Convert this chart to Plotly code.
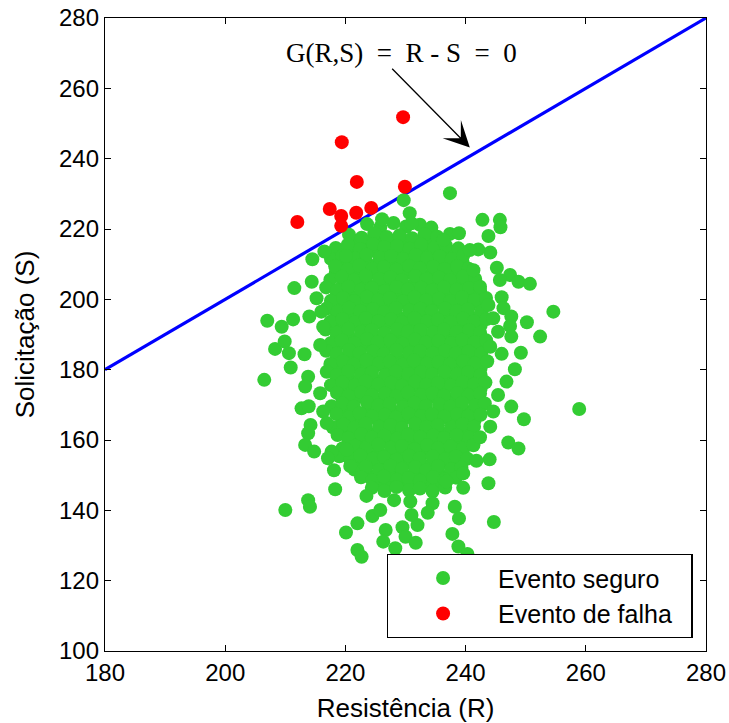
import plotly.graph_objects as go

# ---------------- data ----------------
# failure events (S > R)
fail_r = [212.0, 219.4, 221.9, 217.4, 219.3, 221.8, 224.3, 219.3, 229.6, 229.9]
fail_s = [222.0, 244.7, 233.4, 225.7, 223.7, 224.6, 226.0, 220.9, 251.8, 232.0]

# safe events, outer (isolated) points
edge_r = [229.7, 237.4, 226.1, 230.7, 231.0, 216.5, 214.5, 220.1, 211.5, 207.0,
          209.4, 211.3, 214.0, 215.2, 216.0, 208.3, 209.9, 210.6, 213.2, 210.9,
          206.5, 213.8, 213.3, 215.8, 212.7, 213.9, 216.3, 214.2, 213.8, 216.9,
          213.3, 214.8, 217.7, 220.2, 214.4, 216.3, 215.8,
          242.8, 245.7, 245.8, 243.8, 238.9, 236.3, 244.1, 242.1, 240.7, 241.3,
          245.2, 247.4, 248.8, 250.7, 245.7, 242.4, 246.0, 246.3, 243.8, 254.6,
          247.6, 250.2, 247.4, 247.6, 252.4, 244.6, 245.4, 244.1, 249.2, 246.0,
          248.2, 246.8, 245.4, 247.6, 249.7, 258.9, 244.6, 244.1, 242.4, 247.1,
          248.8, 244.0,
          210.0, 213.8, 214.1, 218.3, 220.1, 222.0, 222.0, 222.7, 223.5, 224.5,
          225.8, 226.7, 226.3, 228.3, 228.1, 229.5, 230.0, 231.7, 232.0, 231.0,
          230.8, 234.5, 233.7, 238.2, 238.9, 237.8, 238.8, 240.3, 241.8, 218.1,
          220.8, 217.1, 239.6, 236.8, 243.8, 239.6, 244.7]
edge_s = [228.2, 230.2, 222.8, 224.5, 221.6, 213.6, 211.4, 212.3, 203.2, 193.9,
          192.2, 194.3, 195.1, 200.3, 196.5, 185.9, 188.0, 184.7, 184.4, 180.6,
          177.1, 178.0, 175.2, 173.3, 169.0, 169.6, 168.1, 164.3, 161.9, 164.8,
          158.6, 156.7, 156.7, 157.2, 205.0, 192.2, 187.0,
          222.6, 222.6, 220.5, 218.0, 218.8, 216.9, 213.3, 214.2, 214.0, 208.3,
          209.0, 206.9, 205.0, 204.4, 205.5, 203.6, 200.6, 197.5, 198.4, 196.5,
          195.1, 193.5, 192.4, 189.4, 189.4, 194.6, 190.8, 186.5, 184.8, 184.5,
          180.1, 176.6, 172.8, 169.5, 165.9, 168.8, 168.1, 163.8, 160.8, 159.3,
          157.6, 154.5,
          140.1, 142.9, 141.0, 146.0, 133.7, 136.3, 128.7, 126.8, 144.1, 138.4,
          140.1, 134.4, 131.1, 129.2, 142.9, 135.2, 132.5, 130.8, 135.8, 138.7,
          142.5, 142.0, 139.3, 141.0, 137.7, 133.3, 129.7, 127.6, 154.1, 151.4,
          152.6, 154.8, 146.4, 148.2, 147.7, 150.5, 136.7]

# safe events, dense core (read row by row from the cloud)
core_r = [
    223.6, 225.8, 228.0, 230.1, 232.4, 234.3,
    220.6, 222.7, 224.8, 226.9, 229.0, 231.1, 233.2, 235.3, 237.4,
    218.4, 220.4, 222.5, 224.6, 226.5, 228.6, 230.7, 232.6, 234.8, 236.7, 238.8,
    217.6, 219.5, 221.6, 223.5, 225.7, 227.6, 229.6, 231.7, 233.6, 235.7, 237.7, 239.6,
    218.3, 220.4, 222.3, 224.5, 226.4, 228.5, 230.6, 232.4, 234.6, 236.5, 238.6, 240.5,
    217.5, 219.4, 221.5, 223.4, 225.6, 227.5, 229.4, 231.6, 233.5, 235.6, 237.4, 239.6, 241.6,
    216.8, 218.6, 220.5, 222.6, 224.4, 226.6, 228.5, 230.4, 232.6, 234.5, 236.4, 238.5, 240.6, 242.4,
    217.6, 219.6, 221.4, 223.6, 225.5, 227.4, 229.6, 231.5, 233.4, 235.6, 237.5, 239.4, 241.5, 243.4,
    216.9, 218.7, 220.6, 222.5, 224.6, 226.5, 228.4, 230.6, 232.5, 234.4, 236.6, 238.5, 240.4, 242.6,
    217.5, 219.5, 221.6, 223.4, 225.5, 227.6, 229.4, 231.5, 233.6, 235.4, 237.5, 239.6, 241.4, 243.5,
    216.7, 218.6, 220.5, 222.6, 224.4, 226.5, 228.6, 230.4, 232.5, 234.6, 236.4, 238.5, 240.6, 242.4,
    217.6, 219.4, 221.5, 223.6, 225.4, 227.5, 229.5, 231.6, 233.4, 235.5, 237.6, 239.4, 241.5, 243.4,
    216.8, 218.5, 220.6, 222.4, 224.6, 226.4, 228.5, 230.6, 232.4, 234.5, 236.6, 238.4, 240.5, 242.6,
    217.5, 219.6, 221.4, 223.5, 225.6, 227.4, 229.5, 231.4, 233.6, 235.5, 237.4, 239.6, 241.5, 243.6,
    216.9, 218.6, 220.5, 222.6, 224.4, 226.6, 228.4, 230.5, 232.6, 234.4, 236.5, 238.6, 240.4, 242.5,
    217.6, 219.5, 221.6, 223.4, 225.5, 227.6, 229.4, 231.6, 233.5, 235.4, 237.6, 239.5, 241.4, 243.3,
    218.6, 220.5, 222.6, 224.4, 226.6, 228.5, 230.4, 232.6, 234.5, 236.4, 238.6, 240.5, 242.4,
    217.7, 219.5, 221.4, 223.6, 225.5, 227.4, 229.6, 231.5, 233.4, 235.6, 237.5, 239.4, 241.6, 243.2,
    218.5, 220.6, 222.4, 224.5, 226.6, 228.4, 230.5, 232.6, 234.4, 236.5, 238.6, 240.4, 242.5,
    217.9, 219.7, 221.5, 223.4, 225.6, 227.5, 229.4, 231.6, 233.5, 235.4, 237.6, 239.5, 241.4,
    218.7, 220.5, 222.6, 224.4, 226.5, 228.6, 230.4, 232.5, 234.6, 236.4, 238.5, 240.6,
    219.5, 221.6, 223.4, 225.5, 227.6, 229.4, 231.5, 233.6, 235.4, 237.5, 239.6, 241.3,
    219.0, 220.8, 222.5, 224.6, 226.4, 228.5, 230.6, 232.4, 234.5, 236.6, 238.4, 240.3,
    221.5, 223.4, 225.6, 227.5, 229.4, 231.6, 233.5, 235.4, 237.6, 239.3,
    222.6, 224.5, 226.4, 228.6, 230.5, 232.4, 234.6, 236.5, 238.4,
    224.4, 226.5, 228.5, 230.6, 232.4, 234.5, 236.6,
]
core_s = [
    221.4, 220.5, 221.7, 220.7, 221.2, 220.4,
    218.4, 217.5, 218.7, 217.7, 218.2, 217.4, 218.5, 217.8, 218.6,
    214.6, 215.5, 214.3, 215.7, 214.8, 215.2, 214.4, 215.6, 214.7, 215.3, 214.5,
    211.5, 212.4, 211.6, 212.7, 211.8, 212.3, 211.4, 212.6, 211.7, 212.2, 211.5, 212.5,
    209.4, 208.5, 209.6, 208.7, 209.2, 208.4, 209.5, 208.8, 209.3, 208.6, 209.4, 208.7,
    205.6, 206.4, 205.5, 206.7, 205.8, 206.3, 205.4, 206.6, 205.7, 206.2, 205.5, 206.5, 205.8,
    203.4, 202.5, 203.6, 202.7, 203.2, 202.4, 203.5, 202.8, 203.3, 202.6, 203.4, 202.7, 203.2, 202.5,
    199.6, 200.4, 199.5, 200.7, 199.8, 200.3, 199.4, 200.6, 199.7, 200.2, 199.5, 200.5, 199.8, 200.4,
    197.4, 196.5, 197.6, 196.7, 197.2, 196.4, 197.5, 196.8, 197.3, 196.6, 197.4, 196.7, 197.2, 196.5,
    193.6, 194.4, 193.5, 194.7, 193.8, 194.3, 193.4, 194.6, 193.7, 194.2, 193.5, 194.5, 193.8, 194.4,
    191.4, 190.5, 191.6, 190.7, 191.2, 190.4, 191.5, 190.8, 191.3, 190.6, 191.4, 190.7, 191.2, 190.5,
    187.6, 188.4, 187.5, 188.7, 187.8, 188.3, 187.4, 188.6, 187.7, 188.2, 187.5, 188.5, 187.8, 188.4,
    185.4, 184.5, 185.6, 184.7, 185.2, 184.4, 185.5, 184.8, 185.3, 184.6, 185.4, 184.7, 185.2, 184.5,
    181.6, 182.4, 181.5, 182.7, 181.8, 182.3, 181.4, 182.6, 181.7, 182.2, 181.5, 182.5, 181.8, 182.4,
    179.4, 178.5, 179.6, 178.7, 179.2, 178.4, 179.5, 178.8, 179.3, 178.6, 179.4, 178.7, 179.2, 178.5,
    175.6, 176.4, 175.5, 176.7, 175.8, 176.3, 175.4, 176.6, 175.7, 176.2, 175.5, 176.5, 175.8, 176.4,
    173.4, 172.5, 173.6, 172.7, 173.2, 172.4, 173.5, 172.8, 173.3, 172.6, 173.4, 172.7, 173.2,
    169.6, 170.4, 169.5, 170.7, 169.8, 170.3, 169.4, 170.6, 169.7, 170.2, 169.5, 170.5, 169.8, 170.4,
    167.4, 166.5, 167.6, 166.7, 167.2, 166.4, 167.5, 166.8, 167.3, 166.6, 167.4, 166.7, 167.2,
    163.6, 164.4, 163.5, 164.7, 163.8, 164.3, 163.4, 164.6, 163.7, 164.2, 163.5, 164.5, 163.8,
    161.4, 160.5, 161.6, 160.7, 161.2, 160.4, 161.5, 160.8, 161.3, 160.6, 161.4, 160.7,
    157.6, 158.4, 157.5, 158.7, 157.8, 158.3, 157.4, 158.6, 157.7, 158.2, 157.5, 158.5,
    155.4, 154.5, 155.6, 154.7, 155.2, 154.4, 155.5, 154.8, 155.3, 154.6, 155.4, 154.7,
    151.6, 152.4, 151.5, 152.7, 151.8, 152.3, 151.4, 152.6, 151.7, 152.2,
    149.4, 148.5, 149.6, 148.7, 149.2, 148.4, 149.5, 148.8, 149.3,
    146.4, 145.5, 146.6, 145.7, 146.2, 145.4, 146.5,
]

# safe events hidden inside the core (between the rows above)
inner_r = [
    221.6, 223.7, 225.8, 227.9, 230.0, 232.1, 234.2, 236.1,
    219.4, 221.5, 223.6, 225.6, 227.7, 229.6, 231.6, 233.7, 235.6, 237.7,
    219.4, 221.4, 223.5, 225.5, 227.5, 229.5, 231.5, 233.5, 235.5, 237.6, 239.5,
    218.4, 220.5, 222.4, 224.5, 226.5, 228.5, 230.5, 232.5, 234.5, 236.5, 238.5, 240.5,
    219.6, 221.6, 223.6, 225.6, 227.6, 229.6, 231.6, 233.6, 235.6, 237.6, 239.6, 241.5,
    218.6, 220.5, 222.5, 224.5, 226.5, 228.5, 230.5, 232.5, 234.5, 236.5, 238.5, 240.5, 242.4,
    218.5, 220.6, 222.6, 224.6, 226.6, 228.6, 230.6, 232.6, 234.6, 236.6, 238.6, 240.6, 242.5,
    218.6, 220.5, 222.5, 224.5, 226.5, 228.5, 230.5, 232.5, 234.5, 236.5, 238.5, 240.5, 242.5,
    218.5, 220.6, 222.6, 224.6, 226.6, 228.6, 230.6, 232.6, 234.6, 236.6, 238.6, 240.6, 242.5,
    218.6, 220.5, 222.5, 224.5, 226.5, 228.5, 230.5, 232.5, 234.5, 236.5, 238.5, 240.5, 242.5,
    218.5, 220.6, 222.6, 224.6, 226.6, 228.6, 230.6, 232.6, 234.6, 236.6, 238.6, 240.6, 242.5,
    218.6, 220.5, 222.5, 224.5, 226.5, 228.5, 230.5, 232.5, 234.5, 236.5, 238.5, 240.5, 242.5,
    218.5, 220.6, 222.6, 224.6, 226.6, 228.6, 230.6, 232.6, 234.6, 236.6, 238.6, 240.6, 242.5,
    218.6, 220.5, 222.5, 224.5, 226.5, 228.5, 230.5, 232.5, 234.5, 236.5, 238.5, 240.5, 242.5,
    218.5, 220.6, 222.6, 224.6, 226.6, 228.6, 230.6, 232.6, 234.6, 236.6, 238.6, 240.6, 242.5,
    219.5, 221.5, 223.5, 225.5, 227.5, 229.5, 231.5, 233.5, 235.5, 237.5, 239.5, 241.5,
    219.6, 221.4, 223.6, 225.4, 227.6, 229.4, 231.6, 233.4, 235.6, 237.4, 239.6, 241.4,
    219.5, 221.5, 223.5, 225.5, 227.5, 229.5, 231.5, 233.5, 235.5, 237.5, 239.5, 241.5,
    219.5, 221.5, 223.5, 225.5, 227.5, 229.5, 231.5, 233.5, 235.5, 237.5, 239.5,
    220.5, 222.5, 224.5, 226.5, 228.5, 230.5, 232.5, 234.5, 236.5, 238.5, 240.4,
    221.5, 223.5, 225.5, 227.5, 229.5, 231.5, 233.5, 235.5, 237.5, 239.5,
    222.5, 224.5, 226.5, 228.5, 230.5, 232.5, 234.5, 236.5, 238.4,
    223.5, 225.5, 227.5, 229.5, 231.5, 233.5, 235.5, 237.5,
    225.5, 227.5, 229.5, 231.5, 233.5, 235.4,
]
inner_s = [
    216.6, 216.4, 216.7, 216.5, 216.6, 216.4, 216.7, 216.5,
    213.5, 213.6, 213.4, 213.5, 213.6, 213.4, 213.5, 213.6, 213.4, 213.5,
    210.5, 210.6, 210.4, 210.5, 210.6, 210.4, 210.5, 210.6, 210.4, 210.5, 210.6,
    207.6, 207.5, 207.7, 207.6, 207.5, 207.7, 207.6, 207.5, 207.7, 207.6, 207.5, 207.7,
    204.5, 204.6, 204.4, 204.5, 204.6, 204.4, 204.5, 204.6, 204.4, 204.5, 204.6, 204.4,
    201.6, 201.5, 201.7, 201.6, 201.5, 201.7, 201.6, 201.5, 201.7, 201.6, 201.5, 201.7, 201.6,
    198.5, 198.6, 198.4, 198.5, 198.6, 198.4, 198.5, 198.6, 198.4, 198.5, 198.6, 198.4, 198.5,
    195.5, 195.6, 195.4, 195.5, 195.6, 195.4, 195.5, 195.6, 195.4, 195.5, 195.6, 195.4, 195.5,
    192.6, 192.5, 192.7, 192.6, 192.5, 192.7, 192.6, 192.5, 192.7, 192.6, 192.5, 192.7, 192.6,
    189.5, 189.6, 189.4, 189.5, 189.6, 189.4, 189.5, 189.6, 189.4, 189.5, 189.6, 189.4, 189.5,
    186.5, 186.6, 186.4, 186.5, 186.6, 186.4, 186.5, 186.6, 186.4, 186.5, 186.6, 186.4, 186.5,
    183.6, 183.5, 183.7, 183.6, 183.5, 183.7, 183.6, 183.5, 183.7, 183.6, 183.5, 183.7, 183.6,
    180.5, 180.6, 180.4, 180.5, 180.6, 180.4, 180.5, 180.6, 180.4, 180.5, 180.6, 180.4, 180.5,
    177.5, 177.6, 177.4, 177.5, 177.6, 177.4, 177.5, 177.6, 177.4, 177.5, 177.6, 177.4, 177.5,
    174.6, 174.5, 174.7, 174.6, 174.5, 174.7, 174.6, 174.5, 174.7, 174.6, 174.5, 174.7, 174.6,
    171.5, 171.6, 171.4, 171.5, 171.6, 171.4, 171.5, 171.6, 171.4, 171.5, 171.6, 171.4,
    168.5, 168.6, 168.4, 168.5, 168.6, 168.4, 168.5, 168.6, 168.4, 168.5, 168.6, 168.4,
    165.6, 165.5, 165.7, 165.6, 165.5, 165.7, 165.6, 165.5, 165.7, 165.6, 165.5, 165.7,
    162.6, 162.5, 162.7, 162.6, 162.5, 162.7, 162.6, 162.5, 162.7, 162.6, 162.5,
    159.5, 159.6, 159.4, 159.5, 159.6, 159.4, 159.5, 159.6, 159.4, 159.5, 159.6,
    156.5, 156.6, 156.4, 156.5, 156.6, 156.4, 156.5, 156.6, 156.4, 156.5,
    153.5, 153.6, 153.4, 153.5, 153.6, 153.4, 153.5, 153.6, 153.4,
    150.5, 150.6, 150.4, 150.5, 150.6, 150.4, 150.5, 150.6,
    147.6, 147.5, 147.7, 147.6, 147.5, 147.7,
]

# limit state line G(R,S) = R - S = 0
limit_r = [180, 280]
limit_s = [180, 280]

x_ticks = [180, 200, 220, 240, 260, 280]
y_ticks = [100, 120, 140, 160, 180, 200, 220, 240, 260, 280]

assert len(core_r) == len(core_s)
assert len(inner_r) == len(inner_s)
assert len(edge_r) == len(edge_s)
safe_r = inner_r + core_r + edge_r
safe_s = inner_s + core_s + edge_s

GREEN = "#33cc33"
SANS = "Liberation Sans, Arial, sans-serif"
NB = "\u00a0"

fig = go.Figure()
fig.add_trace(go.Scatter(x=limit_r, y=limit_s, mode="lines",
                         line=dict(color="#0000ff", width=3.2),
                         showlegend=False, hoverinfo="skip"))
fig.add_trace(go.Scatter(x=safe_r, y=safe_s, mode="markers", name="Evento seguro",
                         marker=dict(color=GREEN, size=14, line=dict(width=0))))
fig.add_trace(go.Scatter(x=fail_r, y=fail_s, mode="markers",
                         name="Evento de falha" + NB + NB,
                         marker=dict(color="#ff0000", size=14, line=dict(width=0))))

# annotation text + arrow
fig.add_annotation(x=229.3, y=270.0, xref="x", yref="y",
                   text="G(R,S)\u2002=\u2002R - S\u2002=\u20020",
                   showarrow=False,
                   font=dict(family="Liberation Serif, serif", size=27, color="black"))
fig.add_annotation(x=240.7, y=243.2, xref="x", yref="y", ax=227.7, ay=265.7,
                   axref="x", ayref="y", text="", showarrow=True, arrowhead=3,
                   arrowsize=3.3, arrowwidth=1.3, arrowcolor="black", standoff=0,
                   font=dict(size=1), borderpad=0)

axis_common = dict(showgrid=False, zeroline=False, showline=True, linecolor="black",
                   linewidth=1.3, mirror="ticks", ticks="inside", ticklen=6,
                   tickcolor="black", tickwidth=1, ticklabeloverflow="allow",
                   tickfont=dict(family=SANS, size=24, color="black"))

fig.update_xaxes(range=[180, 280], tickvals=x_ticks, **axis_common,
                 title=dict(text="Resistência (R)", standoff=14,
                            font=dict(family=SANS, size=26, color="black")))
fig.update_yaxes(range=[100, 280], tickvals=y_ticks, **axis_common,
                 title=dict(text="Solicitação (S)", standoff=16,
                            font=dict(family=SANS, size=26, color="black")))

fig.update_layout(
    width=729, height=723,
    margin=dict(l=105, r=23, t=18, b=72, autoexpand=False),
    plot_bgcolor="white", paper_bgcolor="white",
    font=dict(family=SANS, color="black"),
    legend=dict(x=0.978, xanchor="right", y=0.0205, yanchor="bottom",
                bgcolor="white", bordercolor="black", borderwidth=1.3,
                font=dict(family=SANS, size=25, color="black"),
                itemwidth=100, tracegroupgap=0),
)

# remove the default page margin / scrollbars so the figure fills the window exactly
fig.write_html("out.html",
               config={"displayModeBar": False},
               post_script="document.body.style.margin='0';"
                           "document.body.style.overflow='hidden';"
                           "document.documentElement.style.overflow='hidden';")
